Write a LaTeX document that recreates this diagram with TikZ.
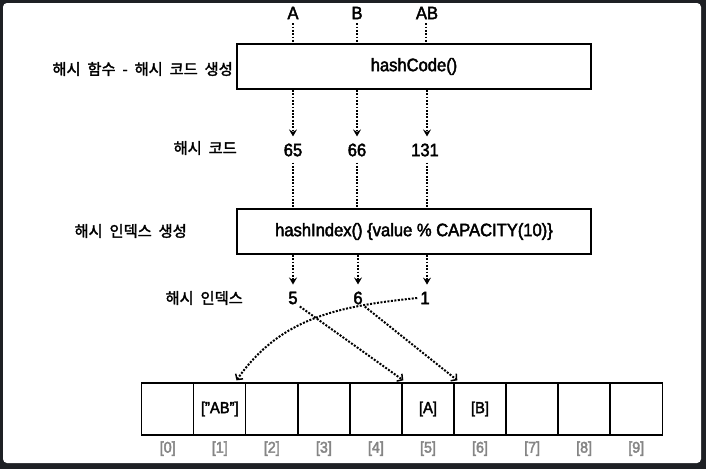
\documentclass[tikz,border=0pt]{standalone}
\usepackage{fontspec}
\setmainfont{Liberation Sans}[FakeStretch=0.92,FakeBold=2.4]
\newfontfamily\kr{Noto Sans CJK KR}[WordSpace=2.0,FakeBold=2.0]
\usetikzlibrary{arrows.meta}
\definecolor{bgdark}{HTML}{1E2024}
\definecolor{idxgray}{HTML}{858585}
\begin{document}
\begin{tikzpicture}[x=1pt,y=-1pt,
  dotline/.style={line width=1.8pt, dash pattern=on 1.8pt off 1.5pt},
  varrow/.style={dotline, -{Stealth[length=7pt,width=8pt,inset=2.5pt]}},
  darrow/.style={line width=2pt, dash pattern=on 2pt off 1.5pt, -{Straight Barb[length=4pt,width=9pt,line width=1.5pt]}},
  fbox/.style={draw, line width=2pt, minimum width=354pt, minimum height=45pt, inner sep=0, font=\fontsize{18}{20}\selectfont},
  cell/.style={draw, line width=1.3pt, minimum width=52.05pt, minimum height=52pt, inner sep=0, font=\fontsize{16}{18}\selectfont},
  idx/.style={text=idxgray, inner sep=0, font=\fontsize{15.5}{17}\selectfont},
  krlabel/.style={inner sep=0, anchor=east, font=\kr\fontsize{15.3}{17}\selectfont},
  val/.style={inner sep=0, font=\fontsize{18}{20}\selectfont}]
\useasboundingbox (0,0) rectangle (706,469);
\fill[bgdark] (0,0) rectangle (706,469);
\fill[white, rounded corners=4pt] (3,3) rectangle (701,463);

% inputs
\node[val] (iA) at (293,13) {A};
\node[val] (iB) at (357,13) {B};
\node[val] (iAB) at (427,13) {AB};

% hashCode box
\node[fbox] (hc) at (414,66.5) {hashCode()};
\node[krlabel] (l1) at (233,69) {해시 함수 - 해시 코드 생성};

% hash codes
\node[krlabel] (l2) at (237,148) {해시 코드};
\node[val] (c1) at (293,150) {65};
\node[val] (c2) at (357,150) {66};
\node[val] (c3) at (425,150) {131};

% hashIndex box
\node[fbox] (hi) at (414,231.5) {hashIndex() \{value \% CAPACITY(10)\}};
\node[krlabel] (l3) at (187,231) {해시 인덱스 생성};

% hash indexes
\node[krlabel] (l4) at (243,298) {해시 인덱스};
\node[val] (h1) at (293,298) {5};
\node[val] (h2) at (358,298) {6};
\node[val] (h3) at (425,298) {1};

% array
\node[cell] (cell0) at (167.7,409) {};
\node[cell] (cell1) at (219.8,409) {["AB"]};
\node[cell] (cell2) at (271.8,409) {};
\node[cell] (cell3) at (323.9,409) {};
\node[cell] (cell4) at (375.9,409) {};
\node[cell] (cell5) at (428.0,409) {[A]};
\node[cell] (cell6) at (480.0,409) {[B]};
\node[cell] (cell7) at (532.1,409) {};
\node[cell] (cell8) at (584.1,409) {};
\node[cell] (cell9) at (636.2,409) {};
\foreach \i in {0,...,9}
  \node[idx] (n\i) at ([yshift=-13pt]cell\i.south) {[\i]};

% input -> hashCode
\draw[dotline, shorten <=4pt] (iA.south) -- (iA.south |- hc.north);
\draw[dotline, shorten <=4pt] (iB.south) -- (iB.south |- hc.north);
\draw[dotline, shorten <=4pt] ([xshift=-1pt]iAB.south) -- ([xshift=-1pt]iAB.south |- hc.north);

% hashCode -> codes
\draw[varrow, shorten >=7pt] (c1.north |- hc.south) -- (c1.north);
\draw[varrow, shorten >=7pt] (c2.north |- hc.south) -- (c2.north);
\draw[varrow, shorten >=7pt] ([xshift=2pt]c3.north |- hc.south) -- ([xshift=2pt]c3.north);

% codes -> hashIndex
\draw[dotline, shorten <=6pt] (c1.south) -- (c1.south |- hi.north);
\draw[dotline, shorten <=6pt] (c2.south) -- (c2.south |- hi.north);
\draw[dotline, shorten <=6pt] ([xshift=2pt]c3.south) -- ([xshift=2pt]c3.south |- hi.north);

% hashIndex -> indexes
\draw[varrow, shorten >=7pt] (h1.north |- hi.south) -- (h1.north);
\draw[varrow, shorten >=7pt] (h2.north |- hi.south) -- (h2.north);
\draw[varrow, shorten >=7pt] ([xshift=2pt]h3.north |- hi.south) -- ([xshift=2pt]h3.north);

% indexes -> buckets
\draw[darrow] ([xshift=2pt,yshift=-2pt]h1.south east) -- ([xshift=2pt,yshift=2pt]cell5.north west);
\draw[darrow] ([xshift=2pt,yshift=-2pt]h2.south east) -- ([xshift=4pt,yshift=2pt]cell6.north west);
\draw[darrow] ([xshift=-3pt]h3.west) to[out=186,in=55] ([xshift=-10pt,yshift=2pt]cell1.north east);
\end{tikzpicture}
\end{document}
